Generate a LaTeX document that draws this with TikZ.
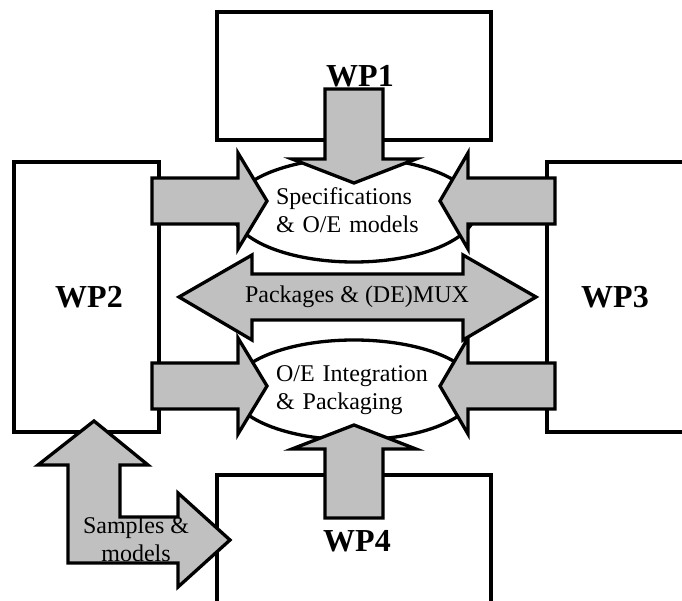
\documentclass[tikz,border=0pt]{standalone}
\usepackage{fontspec}
\setmainfont{Liberation Serif}
\usetikzlibrary{shapes.geometric}
\definecolor{arrowgray}{HTML}{C0C0C0}
\tikzset{
  wpbox/.style={draw,line width=3.3pt},
  wplabel/.style={font=\fontsize{32}{36}\selectfont\bfseries,inner sep=0pt},
  bubble/.style={draw,fill=white,ellipse,line width=3.3pt,inner sep=0pt,
    minimum width=244pt,text width=156pt,align=left,
    font=\fontsize{24}{28}\selectfont},
  blockarrow/.style={draw,fill=arrowgray,line width=3.3pt,line join=miter},
}
\begin{document}
\begin{tikzpicture}[x=1pt,y=-1pt]
  \useasboundingbox (0,0) rectangle (682,601);
  % work packages
  \draw[wpbox] (217,12) rectangle (491,140);
  \draw[wpbox] (14,162) rectangle (159,432);
  \draw[wpbox] (547,162) rectangle (720,432);
  \draw[wpbox] (217,475) rectangle (491,640);
  \node[wplabel] (wp1) at (360,76) {WP1};
  \node[wplabel] (wp2) at (89,297) {WP2};
  \node[wplabel] (wp3) at (615,297) {WP3};
  \node[wplabel] (wp4) at (357,541) {WP4};
  % shared activities
  \node[bubble,minimum height=104pt] (spec) at (354,210) {Specifications\\\& O/E models};
  \node[bubble,minimum height=100pt] (integ) at (354,390) {O/E Integration\\\& Packaging};
  % arrows from WP2 and WP3
  \foreach \y in {201,386}{
    \draw[blockarrow] (152,\y-23) -- (238,\y-23) -- (238,\y-48) -- (267,\y)
      -- (238,\y+48) -- (238,\y+23) -- (152,\y+23) -- cycle;
    \draw[blockarrow] (555,\y-23) -- (468,\y-23) -- (468,\y-48) -- (440,\y)
      -- (468,\y+48) -- (468,\y+23) -- (555,\y+23) -- cycle;
  }
  % WP1 down, WP4 up
  \draw[blockarrow] (325,89) -- (383,89) -- (383,159) -- (416,159) -- (354,183)
    -- (292,159) -- (325,159) -- cycle;
  \draw[blockarrow] (325,518) -- (383,518) -- (383,449) -- (416,449) -- (354,425)
    -- (292,449) -- (325,449) -- cycle;
  % packages and (de)mux
  \draw[blockarrow] (179,297) -- (252,255) -- (252,274) -- (463,274) -- (463,255)
    -- (536,297) -- (463,340) -- (463,320) -- (252,320) -- (252,340) -- cycle;
  \node[font=\fontsize{24}{28}\selectfont,inner sep=0pt] (pack) at (357,297) {Packages \& (DE)MUX};
  % samples between WP2 and WP4
  \draw[blockarrow] (94,421) -- (148,465) -- (120,465) -- (120,517) -- (178,517)
    -- (178,493) -- (230,540) -- (178,587) -- (178,563) -- (68,563) -- (68,465)
    -- (38,465) -- cycle;
  \node[font=\fontsize{24}{28}\selectfont,align=center,inner sep=0pt] (samp) at (136,539) {Samples \&\\models};
\end{tikzpicture}
\end{document}
